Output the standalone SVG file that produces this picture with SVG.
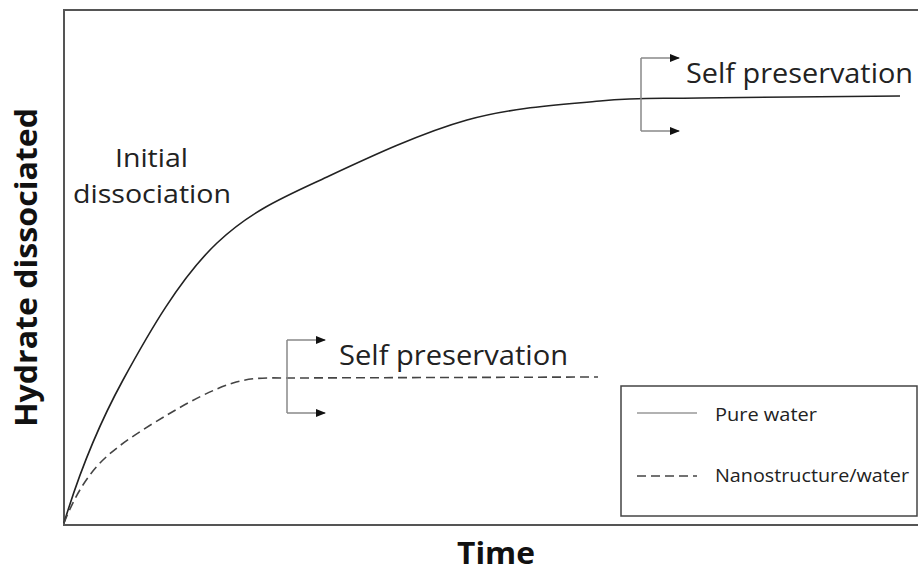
<svg xmlns="http://www.w3.org/2000/svg" width="918" height="573" viewBox="0 0 918 573">
<style>
.axis{fill:none;stroke:#555;stroke-width:2}
.solid{fill:none;stroke:#222;stroke-width:1.6}
.dash{fill:none;stroke:#444;stroke-width:1.6;stroke-dasharray:9,5}
.brk{fill:none;stroke:#888;stroke-width:1.5}
.lbl{font-family:"Open Sans","Noto Sans",sans-serif;fill:#222}
.bold{font-family:"Open Sans","Noto Sans",sans-serif;font-weight:bold;fill:#111}
</style>
<defs>
<marker id="ah" markerUnits="userSpaceOnUse" markerWidth="10" markerHeight="10" refX="9" refY="5" orient="auto">
<path d="M0,1 L10,5 L0,9 Z" fill="#111"/>
</marker>
</defs>
<rect width="918" height="573" fill="#fff"/>
<g id="axes">
<path class="axis" d="M918,10 H64 V525 H918"/>
</g>
<g id="connectors">
<path id="pure-curve" class="solid" d="M64,523 C80,470 97.5,426.7 123,380 C148.5,333.3 180,278 217,243 C252,210 285.3,196.5 327,177 C368.7,157.5 421.5,132.7 467,120 C512.5,107.3 561.2,104.7 600,101 C638.8,97.3 650,98.8 700,98 C750,97.2 867,96.3 900,96"/>
<path id="nano-curve" class="dash" d="M64,523 C72,503 82.8,481 100,463 C117.2,445 144.8,428.3 167,415 C189.2,401.7 213,389.2 233,383 C253,376.8 270,378 287,378 L598,377"/>
<path class="brk" d="M641,58 V131"/>
<path class="brk" d="M641,58 H679" marker-end="url(#ah)"/>
<path class="brk" d="M641,131 H679" marker-end="url(#ah)"/>
<path class="brk" d="M287,340 V413"/>
<path class="brk" d="M287,340 H325" marker-end="url(#ah)"/>
<path class="brk" d="M287,413 H325" marker-end="url(#ah)"/>
</g>
<g id="label-top">
<text class="lbl" x="686" y="83" font-size="27" textLength="227" lengthAdjust="spacingAndGlyphs">Self preservation</text>
</g>
<g id="label-bottom">
<text class="lbl" x="339" y="365" font-size="27" textLength="229" lengthAdjust="spacingAndGlyphs">Self preservation</text>
</g>
<g id="label-initial">
<text class="lbl" x="115" y="167" font-size="26" textLength="73" lengthAdjust="spacingAndGlyphs">Initial</text>
<text class="lbl" x="73" y="203" font-size="26" textLength="158" lengthAdjust="spacingAndGlyphs">dissociation</text>
</g>
<g id="y-label">
<text class="bold" transform="translate(37,427) rotate(-90)" x="0" y="0" font-size="31" textLength="319" lengthAdjust="spacingAndGlyphs">Hydrate dissociated</text>
</g>
<g id="x-label">
<text class="bold" x="457" y="564" font-size="30" textLength="78" lengthAdjust="spacingAndGlyphs">Time</text>
</g>
<g id="legend">
<rect x="621" y="386" width="296" height="130" fill="#fff" stroke="#444" stroke-width="1.5"/>
<line x1="637" y1="413" x2="697" y2="413" stroke="#999" stroke-width="1.5"/>
<text class="lbl" x="715" y="421" font-size="18" textLength="102" lengthAdjust="spacingAndGlyphs">Pure water</text>
<line x1="637" y1="476" x2="697" y2="476" stroke="#444" stroke-width="1.5" stroke-dasharray="9,5"/>
<text class="lbl" x="715" y="482" font-size="18" textLength="194" lengthAdjust="spacingAndGlyphs">Nanostructure/water</text>
</g>
</svg>
